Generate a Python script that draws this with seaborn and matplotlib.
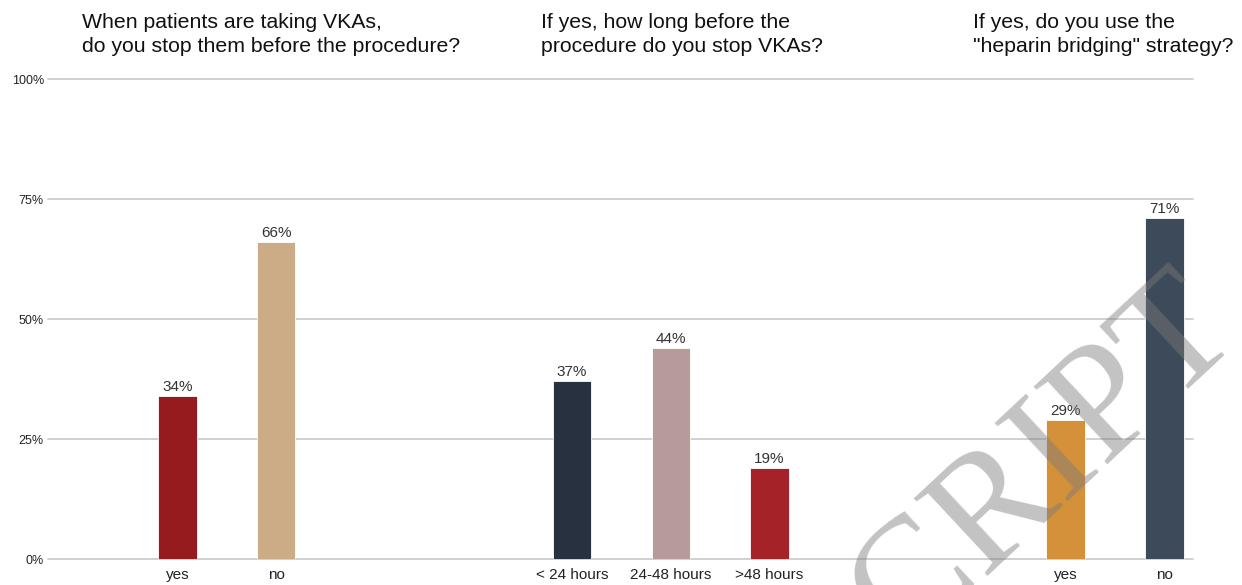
import numpy as np
import pandas as pd
import seaborn as sns
import matplotlib.pyplot as plt

# bars, left to right
labels = ["yes", "no", "< 24 hours", "24-48 hours", ">48 hours", "yes", "no"]
values = [34, 66, 37, 44, 19, 29, 71]
positions = [1, 2, 5, 6, 7, 10, 11]
colors = ["#951b1f", "#cbac86", "#273140", "#b59c9b", "#a52228", "#d4913a", "#3d4a59"]

titles = [
    "When patients are taking VKAs,\ndo you stop them before the procedure?",
    "If yes, how long before the\nprocedure do you stop VKAs?",
    'If yes, do you use the\n"heparin bridging" strategy?',
]
title_x = [82, 541, 973]
yticks = [0, 25, 50, 75, 100]

df = pd.DataFrame({"pos": positions, "value": values,
                   "bar": ["b%d" % i for i in range(len(values))]})

sns.set_style("white")
plt.rcParams["font.family"] = ["Liberation Sans", "DejaVu Sans"]

W, H = 1242, 585
fig = plt.figure(figsize=(W / 100, H / 100), dpi=100)
ax = fig.add_axes([48 / W, 26 / H, (1193 - 48) / W, 480 / H])

sns.barplot(data=df, x="pos", y="value", hue="bar", palette=colors,
            native_scale=True, dodge=False, width=0.39, legend=False,
            saturation=1, edgecolor="white", linewidth=0.6, ax=ax)

for c in ax.containers:
    ax.bar_label(c, fmt="%d%%", padding=1.5, fontsize=11, color="#333333")

ax.set_xlim(-0.31, 11.29)
ax.set_ylim(0, 100)
ax.set_yticks(yticks)
ax.set_yticklabels(["%d%%" % t for t in yticks], fontsize=9, color="#222222")
ax.set_xticks(positions)
ax.set_xticklabels(labels, fontsize=11, color="#222222")
ax.tick_params(length=0)
ax.tick_params(axis="y", pad=3)
ax.tick_params(axis="x", pad=6.5)
ax.set_xlabel("")
ax.set_ylabel("")
ax.yaxis.grid(True, color="#c8c8c8", lw=1.2)
ax.set_axisbelow(True)
sns.despine(ax=ax, left=True, bottom=True)
for gl in ax.get_ygridlines():
    gl.set_clip_on(False)

for t, x in zip(titles, title_x):
    fig.text(x / W, 1 - 13 / H, t, fontsize=15.3, ha="left", va="top",
             linespacing=1.3, color="#111111")

# watermark
fig.text(1242 / W, 1 - 334 / H, "MANUSCRIPT", family="Liberation Serif",
         fontsize=118, color="#7a7a7a", alpha=0.45, rotation=43,
         ha="right", va="baseline", rotation_mode="anchor", zorder=10)

fig.savefig("out.png", dpi=100)
